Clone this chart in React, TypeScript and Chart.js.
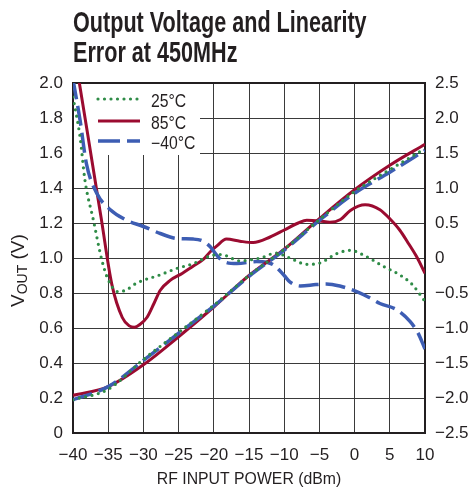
import React, { useEffect, useRef } from 'react';
import { Chart, registerables } from 'chart.js';

Chart.register(...registerables);

// ---- Data ----
const voutPower = [-40, -35, -30, -25, -20, -15, -10, -5, 0, 5, 10];
const vout25 = [0.19, 0.25, 0.42, 0.575, 0.73, 0.9, 1.05, 1.22, 1.38, 1.505, 1.625];
const vout85 = [0.215, 0.265, 0.39, 0.55, 0.72, 0.9, 1.05, 1.225, 1.39, 1.53, 1.65];
const voutM40 = [0.19, 0.265, 0.415, 0.57, 0.725, 0.895, 1.045, 1.215, 1.37, 1.49, 1.615];

const err25Power = [-40, -39, -38.3, -37.1, -35.9, -35, -33.6, -32.5, -31, -27.6, -25.3, -22.9, -20.5, -19, -16.3, -13.4, -11.2, -9.2, -6.8, -4.9, -2.6, -0.6, 1.5, 4.1, 6.4, 8.2, 10];
const err25 = [2.3, 1.73, 1.11, 0.54, -0.03, -0.31, -0.48, -0.46, -0.36, -0.24, -0.15, -0.08, 0.03, 0.05, -0.04, 0.0, 0.07, 0.0, -0.09, -0.07, 0.06, 0.11, 0.03, -0.12, -0.24, -0.38, -0.62];

const err85Power = [-40, -38, -36, -34.5, -33, -32, -31.3, -30.5, -29.5, -28.5, -27.6, -26.2, -24.5, -23, -21.5, -20.5, -19.6, -18.2, -16.3, -14.4, -12, -10, -8, -6.8, -5, -3.5, -2, -0.6, 1.5, 3.6, 5, 6.4, 7.7, 8.8, 10];
const err85 = [3.06, 1.82, 0.57, -0.37, -0.85, -0.97, -0.99, -0.95, -0.85, -0.65, -0.46, -0.32, -0.22, -0.12, -0.02, 0.09, 0.17, 0.27, 0.24, 0.22, 0.3, 0.4, 0.5, 0.54, 0.53, 0.51, 0.55, 0.68, 0.76, 0.69, 0.56, 0.4, 0.2, 0.02, -0.22];

const errM40Power = [-40, -39, -38.1, -36.6, -34.7, -32.4, -30, -27.6, -25.3, -22.9, -21.5, -20.5, -19.5, -18.6, -16.7, -13.9, -12.5, -11.5, -10, -9.2, -7.7, -5.5, -4, -2.1, 0.3, 2, 3.6, 6, 7.9, 9, 10];
const errM40 = [2.55, 1.97, 1.35, 0.92, 0.69, 0.54, 0.45, 0.35, 0.28, 0.27, 0.24, 0.16, 0.03, -0.05, -0.08, -0.05, -0.06, -0.1, -0.25, -0.34, -0.4, -0.38, -0.37, -0.4, -0.48, -0.56, -0.65, -0.74, -0.91, -1.07, -1.3];

const xTicks = { min: -40, max: 10, step: 5 };
const leftTicks = { min: 0, max: 2, step: 0.2 };
const rightTicks = { min: -2.5, max: 2.5, step: 0.5 };

const titleLines = ['Output Voltage and Linearity', 'Error at 450MHz'];
const xTitle = 'RF INPUT POWER (dBm)';
const legendLabels = ['25°C', '85°C', '−40°C'];

const GREEN = '#2f8c47';
const RED = '#9b0b30';
const BLUE = '#3d5db3';
const INK = '#231f20';
const FONT = "'Liberation Sans', Arial, sans-serif";

const pts = (xs: number[], ys: number[]) => xs.map((x, i) => ({ x, y: ys[i] }));
const minus = (s: string) => s.replace('-', '−');

const customPlugin = {
  id: 'customDecor',
  beforeDatasetsDraw(chart: any) {
    const { ctx, chartArea: a } = chart;
    ctx.save();
    // legend box (covers grid)
    ctx.fillStyle = '#ffffff';
    ctx.fillRect(a.left + 1, a.top + 1, 126, 71);
    // plot frame
    ctx.strokeStyle = INK;
    ctx.lineWidth = 2;
    ctx.strokeRect(a.left, a.top, a.right - a.left, a.bottom - a.top);
    // legend samples
    const sx0 = a.left + 25;
    const sx1 = a.left + 67;
    const rows = [a.top + 16, a.top + 38, a.top + 58];
    const styles = [
      { color: GREEN, dash: [0, 6.5], width: 3.2, cap: 'round' },
      { color: RED, dash: [], width: 3, cap: 'butt' },
      { color: BLUE, dash: [22, 7], width: 3.5, cap: 'butt' },
    ];
    styles.forEach((s, i) => {
      ctx.beginPath();
      ctx.setLineDash(s.dash);
      ctx.lineCap = s.cap;
      ctx.strokeStyle = s.color;
      ctx.lineWidth = s.width;
      ctx.moveTo(sx0, rows[i]);
      ctx.lineTo(sx1, rows[i]);
      ctx.stroke();
    });
    ctx.setLineDash([]);
    ctx.fillStyle = INK;
    ctx.font = `17.5px ${FONT}`;
    ctx.textBaseline = 'alphabetic';
    ctx.textAlign = 'left';
    legendLabels.forEach((t, i) => {
      ctx.save();
      ctx.translate(a.left + 78, rows[i] + 7.5);
      ctx.scale(0.9, 1);
      ctx.fillText(t, 0, 0);
      ctx.restore();
    });
    ctx.restore();
  },
  afterDraw(chart: any) {
    const { ctx, chartArea: a } = chart;
    ctx.save();
    ctx.fillStyle = INK;
    ctx.textBaseline = 'alphabetic';
    // title
    ctx.font = `bold 30px ${FONT}`;
    ctx.textAlign = 'left';
    titleLines.forEach((t, i) => {
      ctx.save();
      ctx.translate(73, 32 + i * 30);
      ctx.scale(0.72, 1);
      ctx.fillText(t, 0, 0);
      ctx.restore();
    });
    // x title
    ctx.save();
    ctx.font = `17px ${FONT}`;
    ctx.textAlign = 'center';
    ctx.translate((a.left + a.right) / 2, 484);
    ctx.scale(0.93, 1);
    ctx.fillText(xTitle, 0, 0);
    ctx.restore();
    // y title with subscript
    ctx.save();
    ctx.translate(23.5, 307);
    ctx.rotate(-Math.PI / 2);
    ctx.textAlign = 'left';
    ctx.font = `19px ${FONT}`;
    ctx.fillText('V', 0, 0);
    let x = ctx.measureText('V').width;
    ctx.font = `14px ${FONT}`;
    ctx.fillText('OUT', x, 3);
    x += ctx.measureText('OUT').width;
    ctx.font = `19px ${FONT}`;
    ctx.fillText(' (V)', x, 0);
    ctx.restore();
    ctx.restore();
  },
};

export default function App() {
  const ref = useRef<HTMLCanvasElement | null>(null);
  useEffect(() => {
    if (!ref.current) return;
    const tickFont = { family: FONT, size: 17 };
    const chart = new Chart(ref.current, {
      type: 'line',
      data: {
        datasets: [
          { label: '25°C VOUT', data: pts(voutPower, vout25), yAxisID: 'y', borderColor: GREEN, borderWidth: 3.2, borderDash: [0, 6.5], borderCapStyle: 'round' },
          { label: '−40°C VOUT', data: pts(voutPower, voutM40), yAxisID: 'y', borderColor: BLUE, borderWidth: 3.5, borderDash: [20, 7] },
          { label: '85°C VOUT', data: pts(voutPower, vout85), yAxisID: 'y', borderColor: RED, borderWidth: 3 },
          { label: '25°C error', data: pts(err25Power, err25), yAxisID: 'y2', borderColor: GREEN, borderWidth: 3.2, borderDash: [0, 6.5], borderCapStyle: 'round' },
          { label: '−40°C error', data: pts(errM40Power, errM40), yAxisID: 'y2', borderColor: BLUE, borderWidth: 3.5, borderDash: [20, 7] },
          { label: '85°C error', data: pts(err85Power, err85), yAxisID: 'y2', borderColor: RED, borderWidth: 3 },
        ].map((d: any) => ({ ...d, pointRadius: 0, fill: false, cubicInterpolationMode: 'monotone', clip: 0 })),
      },
      options: {
        animation: false,
        responsive: false,
        devicePixelRatio: 1,
        layout: { padding: { top: 83, left: 0, right: 0, bottom: 0 } },
        plugins: { legend: { display: false }, title: { display: false }, tooltip: { enabled: false } },
        scales: {
          x: {
            type: 'linear',
            min: xTicks.min,
            max: xTicks.max,
            ticks: { stepSize: xTicks.step, font: tickFont, color: INK, padding: 12, maxRotation: 0, callback: (v: any) => minus(String(v)) },
            grid: { color: '#3a3a3a', lineWidth: 1, drawTicks: false },
            border: { display: false },
            afterFit: (s: any) => { s.height = 61; },
          },
          y: {
            position: 'left',
            min: leftTicks.min,
            max: leftTicks.max,
            ticks: { stepSize: leftTicks.step, font: tickFont, color: INK, padding: 10, callback: (v: any) => (Math.abs(v) < 1e-9 ? '0' : Number(v).toFixed(1)) },
            grid: { color: '#3a3a3a', lineWidth: 1, drawTicks: false },
            border: { display: false },
            afterFit: (s: any) => { s.width = 73; },
          },
          y2: {
            position: 'right',
            min: rightTicks.min,
            max: rightTicks.max,
            ticks: { stepSize: rightTicks.step, font: tickFont, color: INK, padding: 10, callback: (v: any) => (Math.abs(v) < 1e-9 ? '0' : minus(Number(v).toFixed(1))) },
            grid: { display: false, drawTicks: false },
            border: { display: false },
            afterFit: (s: any) => { s.width = 44; },
          },
        },
      },
      plugins: [customPlugin],
    } as any);
    return () => chart.destroy();
  }, []);
  return (
    <div style={{ position: 'absolute', left: 0, top: 0, width: 469, height: 494, background: '#fff' }}>
      <canvas ref={ref} width={469} height={494} />
    </div>
  );
}
